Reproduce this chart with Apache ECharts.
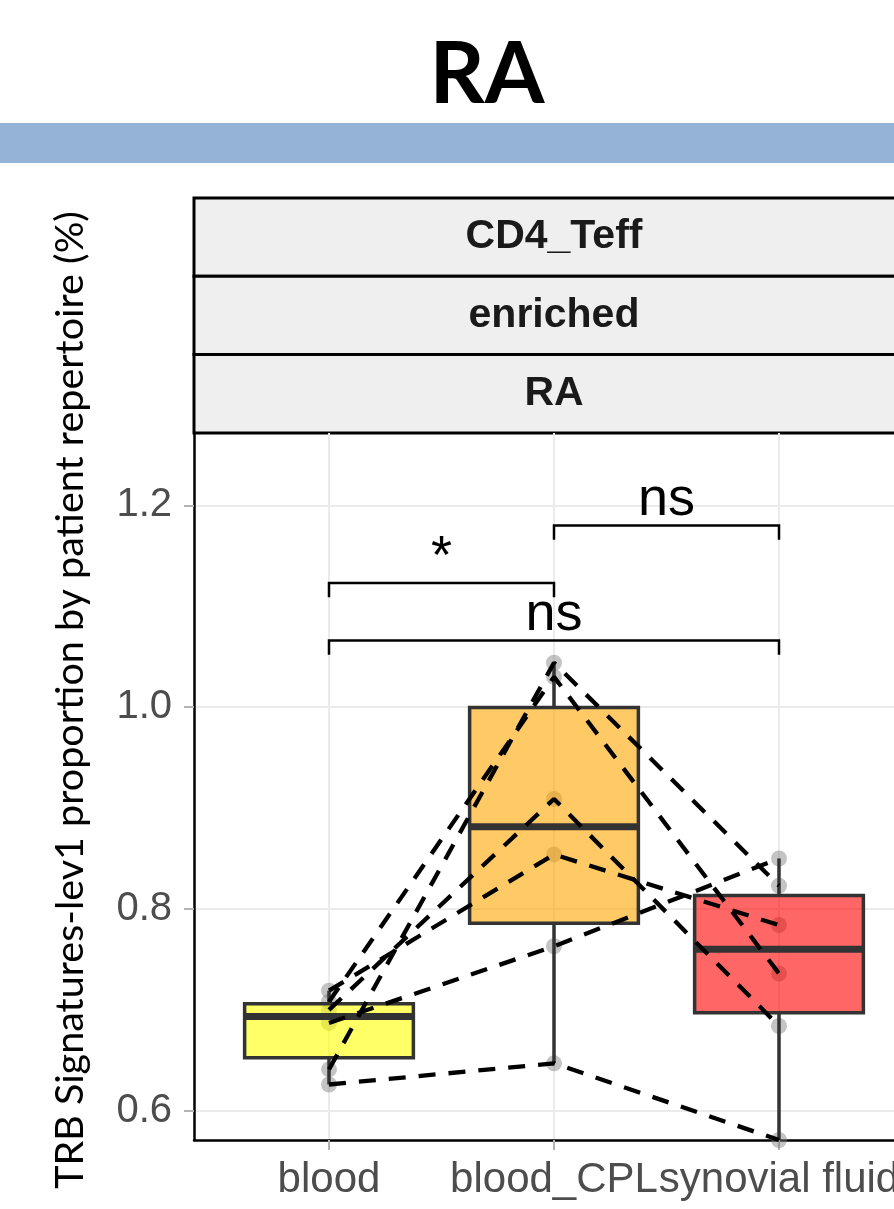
<!DOCTYPE html>
<html>
<head>
<meta charset="utf-8">
<script src="https://cdn.jsdelivr.net/npm/echarts@6/dist/echarts.min.js"></script>
<style>
html,body{margin:0;padding:0;background:#fff;}
#chart{width:894px;height:1209px;}
</style>
</head>
<body>
<div id="chart"></div>
<script>
// ---- data ----
const categories = ['blood', 'blood_CPL', 'synovial fluid'];
// one entry per patient, paired across the three tissues
const bloodValues     = [0.626, 0.687, 0.700, 0.719, 0.641, 0.708];
const bloodCPLValues  = [0.647, 0.763, 0.909, 0.854, 1.044, 1.030];
const synovialValues  = [0.571, 0.850, 0.684, 0.784, 0.823, 0.736];
const yTickValues = [0.6, 0.8, 1.0, 1.2];
const yTickLabels = ['0.6', '0.8', '1.0', '1.2'];
const bracketFrom   = [0, 1, 0];
const bracketTo     = [1, 2, 2];
const bracketY      = [1.123, 1.180, 1.066];
const bracketLabels = ['*', 'ns', 'ns'];
const stripLabels = ['CD4_Teff', 'enriched', 'RA'];
const titleText = 'RA';
const yAxisTitle = 'TRB Signatures-lev1 proportion by patient repertoire (%)';

// ---- derived ----
const groups = [bloodValues, bloodCPLValues, synovialValues];
function quantile7(sorted, p) {
  const h = (sorted.length - 1) * p, lo = Math.floor(h), hi = Math.ceil(h);
  return sorted[lo] + (h - lo) * (sorted[hi] - sorted[lo]);
}
const boxStats = groups.map((g, i) => {
  const s = g.slice().sort((a, b) => a - b);
  const q1 = quantile7(s, 0.25), med = quantile7(s, 0.5), q3 = quantile7(s, 0.75);
  const iqr = q3 - q1;
  const lo = Math.min(...s.filter(v => v >= q1 - 1.5 * iqr));
  const hi = Math.max(...s.filter(v => v <= q3 + 1.5 * iqr));
  return [i, lo, q1, med, q3, hi];
});
const pointData = [];
groups.forEach((g, i) => g.forEach(v => pointData.push([i, v])));

const boxFills = ['rgba(255,255,0,0.6)', 'rgba(255,165,0,0.6)', 'rgba(255,0,0,0.6)'];
const BOX_W = 0.75;
const TIP = 0.014;
const AXIS_FONT = 'Liberation Sans';

const series = [];
series.push({
  type: 'scatter', z: 2, data: pointData, symbolSize: 16,
  itemStyle: { color: 'rgba(128,128,128,0.58)' }, silent: true
});
series.push({
  type: 'custom', z: 3, data: boxStats, clip: true,
  renderItem: function (params, api) {
    const x = api.value(0);
    const pLo = api.coord([x, api.value(1)]);
    const pQ1 = api.coord([x, api.value(2)]);
    const pMed = api.coord([x, api.value(3)]);
    const pQ3 = api.coord([x, api.value(4)]);
    const pHi = api.coord([x, api.value(5)]);
    const hw = api.size([BOX_W, 0])[0] / 2;
    const st = { stroke: '#333333', lineWidth: 3.5 };
    return { type: 'group', children: [
      { type: 'line', shape: { x1: pLo[0], y1: pLo[1], x2: pQ1[0], y2: pQ1[1] }, style: st },
      { type: 'line', shape: { x1: pQ3[0], y1: pQ3[1], x2: pHi[0], y2: pHi[1] }, style: st },
      { type: 'rect', shape: { x: pQ3[0] - hw, y: pQ3[1], width: 2 * hw, height: pQ1[1] - pQ3[1] },
        style: { fill: boxFills[params.dataIndex], stroke: '#333333', lineWidth: 3.5 } },
      { type: 'line', shape: { x1: pMed[0] - hw, y1: pMed[1], x2: pMed[0] + hw, y2: pMed[1] },
        style: { stroke: '#333333', lineWidth: 7 } }
    ]};
  }
});
bloodValues.forEach((_, i) => {
  series.push({
    type: 'line', z: 4, symbol: 'none', silent: true,
    data: [[0, bloodValues[i]], [1, bloodCPLValues[i]], [2, synovialValues[i]]],
    lineStyle: { color: '#000', width: 4.3, type: [17, 13] }
  });
});
series.push({
  type: 'custom', z: 5,
  data: bracketFrom.map((f, i) => [f, bracketTo[i], bracketY[i]]),
  renderItem: function (params, api) {
    const a = api.coord([api.value(0), api.value(2)]);
    const b = api.coord([api.value(1), api.value(2)]);
    const ta = api.coord([api.value(0), api.value(2) - TIP]);
    const tb = api.coord([api.value(1), api.value(2) - TIP]);
    return { type: 'group', children: [
      { type: 'polyline', shape: { points: [ta, a, b, tb] },
        style: { stroke: '#000', lineWidth: 2.5, fill: null } },
      { type: 'text', x: (a[0] + b[0]) / 2, y: a[1] + 2,
        style: { text: bracketLabels[params.dataIndex], fontFamily: AXIS_FONT, fontSize: 54,
                 fill: '#000', align: 'center', verticalAlign: 'bottom' } }
    ]};
  }
});

const graphics = [
  { type: 'rect', shape: { x: 0, y: 123, width: 894, height: 40 }, style: { fill: '#95b3d7' } },
  { type: 'text', x: 487, y: 75, style: { text: titleText, fontFamily: 'Lato', fontWeight: 'bold',
      fontSize: 86, fill: '#000', align: 'center', verticalAlign: 'middle' } },
  { type: 'text', x: 70, y: 700, rotation: Math.PI / 2,
    style: { text: yAxisTitle, fontFamily: 'Lato', fontSize: 39.5, fill: '#000',
             align: 'center', verticalAlign: 'middle' } }
];
const stripTop = 198, stripH = 78.3;
stripLabels.forEach((lab, i) => {
  graphics.push({ type: 'rect', shape: { x: 194, y: stripTop + i * stripH, width: 740, height: stripH },
    style: { fill: '#efefef', stroke: '#000', lineWidth: 3 } });
  graphics.push({ type: 'text', x: 554, y: stripTop + (i + 0.5) * stripH,
    style: { text: lab, fontFamily: AXIS_FONT, fontWeight: 'bold', fontSize: 41, fill: '#1a1a1a',
             align: 'center', verticalAlign: 'middle' } });
});

const chart = echarts.init(document.getElementById('chart'), null, { renderer: 'canvas' });
chart.setOption({
  animation: false,
  backgroundColor: '#ffffff',
  grid: { left: 194, top: 433, width: 720, height: 707, show: false,
          containLabel: false, outerBoundsMode: 'none' },
  xAxis: {
    type: 'value', min: -0.6, max: 2.6,
    axisLine: { onZero: false, lineStyle: { color: '#000', width: 2.5 } },
    axisTick: { customValues: [0, 1, 2], length: 10, lineStyle: { color: '#b3b3b3', width: 2 } },
    axisLabel: { customValues: [0, 1, 2], formatter: v => categories[Math.round(v)],
                 fontFamily: AXIS_FONT, fontSize: 42, color: '#4d4d4d', margin: 19, hideOverlap: false },
    splitLine: { show: true, lineStyle: { color: '#ebebeb', width: 2 } }
  },
  yAxis: {
    type: 'value', min: 0.571, max: 1.2717,
    axisLine: { show: true, onZero: false, lineStyle: { color: '#000', width: 2.5 } },
    axisTick: { show: true, customValues: yTickValues, length: 10, lineStyle: { color: '#b3b3b3', width: 2 } },
    axisLabel: { customValues: yTickValues, formatter: v => yTickLabels[yTickValues.indexOf(v)] || v.toFixed(1),
                 fontFamily: AXIS_FONT, fontSize: 40, color: '#4d4d4d', margin: 22 },
    splitLine: { show: true, lineStyle: { color: '#ebebeb', width: 2 } }
  },
  graphic: graphics,
  series: series
});
</script>
</body>
</html>
